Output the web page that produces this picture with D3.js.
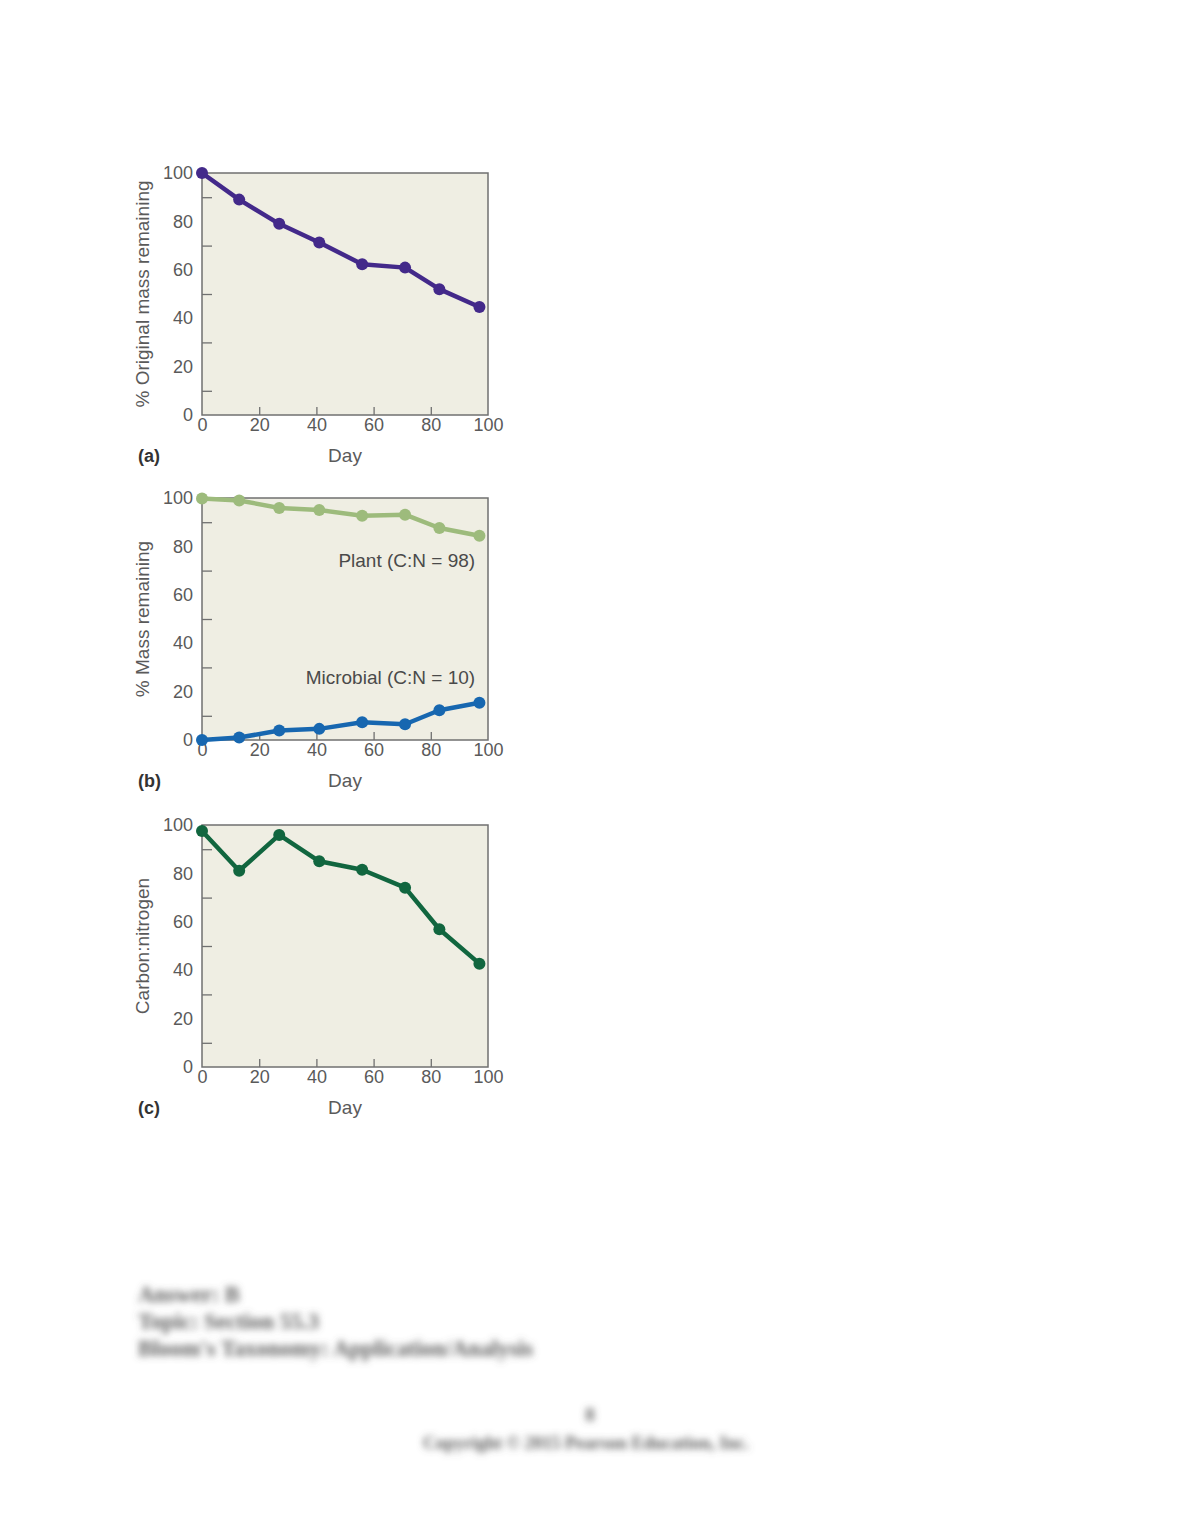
<!DOCTYPE html>
<html>
<head>
<meta charset="utf-8">
<script src="https://cdn.jsdelivr.net/npm/d3@7"></script>
<style>
  body { margin: 0; background: #fff; }
  text { font-family: "Liberation Sans", Arial, sans-serif; }
</style>
</head>
<body>
<div id="chart"></div>
<script>
// day of each sample
var days = [0, 13, 27, 41, 56, 71, 83, 97]
var massRemaining = [100, 89, 79, 71.3, 62.3, 60.9, 52, 44.6]
var plantMass = [99.8, 99, 95.9, 95, 92.7, 93.1, 87.6, 84.4]
var microbialMass = [0, 1, 3.9, 4.6, 7.3, 6.5, 12.3, 15.4]
var carbonNitrogen = [97.5, 81.1, 95.9, 85, 81.5, 74.1, 56.9, 42.7]
var xTicks = [0, 20, 40, 60, 80, 100]
var yTicks = [0, 20, 40, 60, 80, 100]
var xMinor = [20, 40, 60, 80]
var yMinor = [10, 30, 50, 70, 90]
var footerLines = ["Answer:  B", "Topic:  Section 55.3", "Bloom's Taxonomy:  Application/Analysis"]

var W = 1180, H = 1527

var svg = d3.select("#chart")
	.append("svg")
	.attr("width", W)
	.attr("height", H)

svg.append("rect").attr("width", W).attr("height", H).attr("fill", "#fff")

var defs = svg.append("defs")
defs.append("filter").attr("id", "blur")
	.append("feGaussianBlur").attr("stdDeviation", 3.6)

var left = 202, width = 286, height = 242

function panel(top, letter, yTitle, series, notes) {
	var g = svg.append("g").attr("transform", `translate(${left},${top})`)
	var x = d3.scaleLinear().domain([0, 100]).range([0, width])
	var y = d3.scaleLinear().domain([0, 100]).range([height, 0])

	g.append("rect")
		.attr("width", width).attr("height", height)
		.attr("fill", "#efeee3")
		.attr("stroke", "#707070").attr("stroke-width", 1.5)

	// inward minor ticks
	var ym = g.append("g").call(d3.axisLeft(y).tickValues(yMinor).tickSize(-10).tickFormat(""))
	ym.select(".domain").remove()
	ym.selectAll("line").attr("stroke", "#707070").attr("stroke-width", 1.3)
	var xm = g.append("g").attr("transform", `translate(0,${height})`)
		.call(d3.axisBottom(x).tickValues(xMinor).tickSize(-8).tickFormat(""))
	xm.select(".domain").remove()
	xm.selectAll("line").attr("stroke", "#707070").attr("stroke-width", 1.3)

	// labels
	var yl = g.append("g").call(d3.axisLeft(y).tickValues(yTicks).tickSize(0).tickPadding(9))
	yl.select(".domain").remove()
	yl.selectAll("text").attr("font-size", 18).attr("fill", "#5a5a5a")
		.attr("font-family", "Liberation Sans, Arial, sans-serif")
	var xl = g.append("g").attr("transform", `translate(0,${height})`)
		.call(d3.axisBottom(x).tickValues(xTicks).tickSize(0).tickPadding(3))
	xl.select(".domain").remove()
	xl.selectAll("text").attr("font-size", 18).attr("fill", "#5a5a5a")
		.attr("font-family", "Liberation Sans, Arial, sans-serif")

	g.append("text")
		.attr("transform", `translate(-53,${height / 2}) rotate(-90)`)
		.attr("text-anchor", "middle")
		.attr("font-size", 19).attr("fill", "#5a5a5a")
		.text(yTitle)

	g.append("text")
		.attr("x", width / 2).attr("y", height + 47)
		.attr("text-anchor", "middle")
		.attr("font-size", 19).attr("fill", "#5a5a5a")
		.text("Day")

	g.append("text")
		.attr("x", -64).attr("y", height + 47)
		.attr("font-size", 18).attr("font-weight", "bold").attr("fill", "#333")
		.text(letter)

	var line = d3.line()
		.x((d, i) => x(days[i]))
		.y(d => y(d))

	series.forEach(function(s) {
		g.append("path")
			.datum(s.values)
			.attr("fill", "none")
			.attr("stroke", s.color)
			.attr("stroke-width", 4.5)
			.attr("stroke-linejoin", "round")
			.attr("d", line)
		g.selectAll(null)
			.data(s.values)
			.enter()
			.append("circle")
			.attr("cx", (d, i) => x(days[i]))
			.attr("cy", d => y(d))
			.attr("r", 6)
			.attr("fill", s.color)
	})

	notes.forEach(function(n) {
		g.append("text")
			.attr("x", x(95.5)).attr("y", y(n.at))
			.attr("text-anchor", "end")
			.attr("font-size", 19).attr("fill", "#4a4a4a")
			.text(n.text)
	})
}

panel(173, "(a)", "% Original mass remaining",
	[{values: massRemaining, color: "#43298a"}], [])
panel(498, "(b)", "% Mass remaining",
	[{values: plantMass, color: "#9dbb7c"}, {values: microbialMass, color: "#1767b0"}],
	[{text: "Plant (C:N = 98)", at: 71.5}, {text: "Microbial (C:N = 10)", at: 23}])
panel(825, "(c)", "Carbon:nitrogen",
	[{values: carbonNitrogen, color: "#11663f"}], [])

// blurred footer text
var foot = svg.append("g").attr("filter", "url(#blur)")
	.attr("fill", "#5e5e5e").attr("font-weight", "bold")
foot.selectAll(null)
	.data(footerLines)
	.enter()
	.append("text")
	.attr("x", 138)
	.attr("y", (d, i) => 1302 + i * 27)
	.attr("font-size", 22.5)
	.style("font-family", "Liberation Serif, serif")
	.text(d => d)
foot.append("text")
	.attr("x", 590).attr("y", 1421)
	.attr("text-anchor", "middle")
	.attr("font-size", 19)
	.style("font-family", "Liberation Serif, serif")
	.text("8")
foot.append("text")
	.attr("x", 586).attr("y", 1449)
	.attr("text-anchor", "middle")
	.attr("font-size", 18)
	.style("font-family", "Liberation Serif, serif")
	.text("Copyright © 2015 Pearson Education, Inc.")
</script>
</body>
</html>
